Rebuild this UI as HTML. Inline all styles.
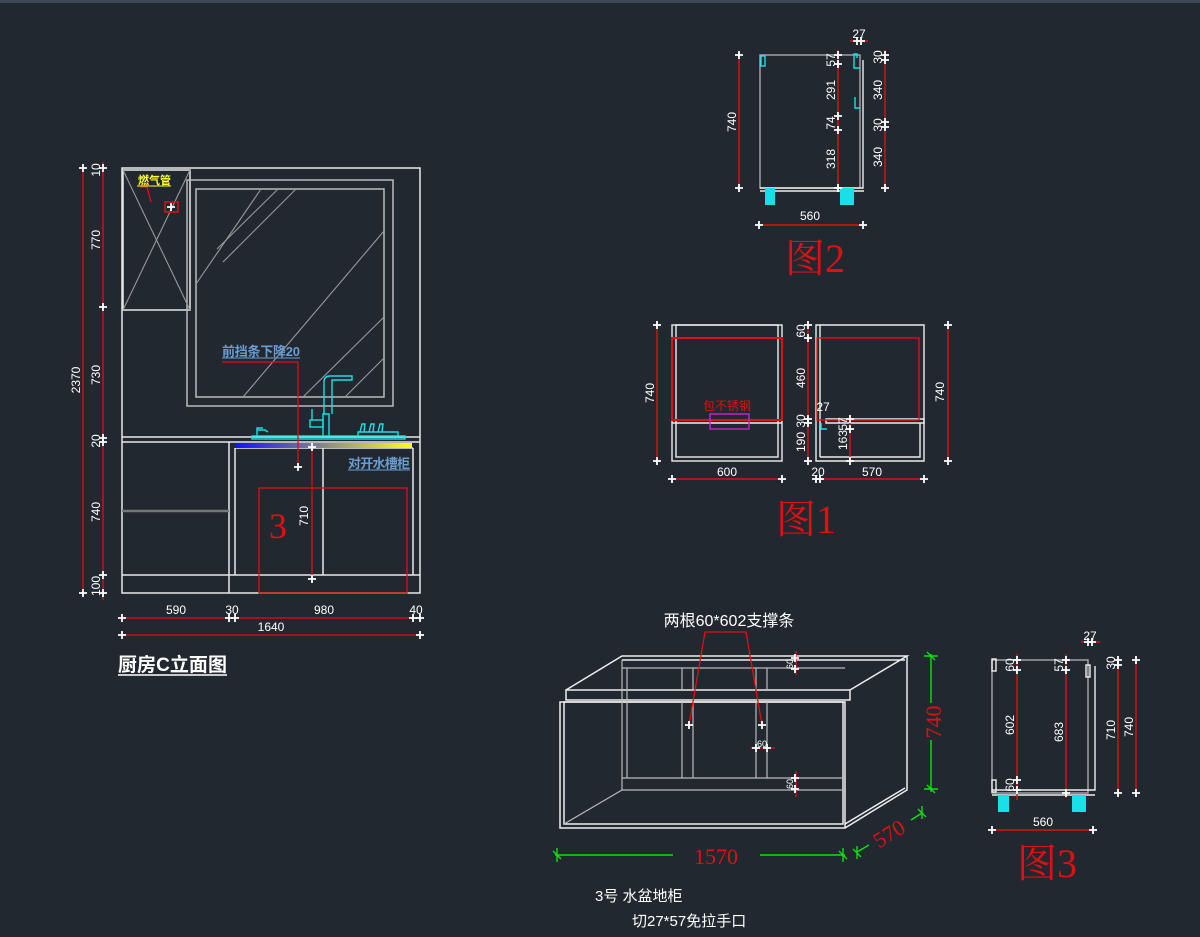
<!DOCTYPE html>
<html><head><meta charset="utf-8"><style>
html,body{margin:0;padding:0;background:#212830;}
svg{display:block}
text{font-family:"Liberation Sans","Noto Sans CJK SC",sans-serif;}
.s{font-family:"Liberation Serif","Noto Serif CJK SC",serif;}
</style></head><body>
<svg width="1200" height="937" viewBox="0 0 1200 937" xmlns="http://www.w3.org/2000/svg">
<defs>
<path id="c" d="M-4 0H4M0-4V4" stroke="#fff" stroke-width="1.8"/>
</defs>
<rect width="1200" height="937" fill="#212830"/>
<rect width="1200" height="3" fill="#3d4756"/>

<!-- ===== Elevation ===== -->
<g fill="none" stroke="#e8e8e8" stroke-width="1.5">
<rect x="122" y="168" width="298" height="425"/>
<rect x="123" y="170" width="67" height="140"/>
<rect x="187" y="180" width="206" height="226" stroke="#bbb"/>
<rect x="196" y="189" width="188" height="208" stroke="#bbb"/>
<line x1="122" y1="437" x2="420" y2="437"/>
<line x1="122" y1="442" x2="420" y2="442"/>
<line x1="229" y1="442" x2="229" y2="593"/>
<line x1="235" y1="448" x2="235" y2="575"/>
<line x1="413" y1="448" x2="413" y2="575"/>
<line x1="323" y1="448" x2="323" y2="575"/>
<line x1="235" y1="448" x2="413" y2="448"/>
<line x1="122" y1="575" x2="420" y2="575"/>
</g>
<g stroke="#999" stroke-width="1.1" fill="none">
<line x1="123" y1="170" x2="190" y2="310"/><line x1="190" y1="170" x2="123" y2="310"/>
<line x1="217" y1="249" x2="278" y2="189"/><line x1="223" y1="262" x2="296" y2="189"/>
<line x1="196" y1="284" x2="261" y2="189"/>
<line x1="243" y1="397" x2="384" y2="231"/><line x1="303" y1="397" x2="384" y2="317"/>
<line x1="345" y1="397" x2="384" y2="358"/>
<line x1="122" y1="511" x2="229" y2="511" stroke-width="2.5" stroke="#777"/>
</g>
<defs><linearGradient id="g1"><stop offset="0" stop-color="#1010ff"/><stop offset="0.5" stop-color="#888"/><stop offset="1" stop-color="#ffff20"/></linearGradient></defs>
<rect x="235" y="443" width="177" height="5" fill="url(#g1)"/>
<!-- faucet -->
<g fill="none" stroke="#19e0e8" stroke-width="1.4">
<rect x="252" y="436" width="153" height="3"/>
<path d="M257 436v-6h8l3 2M257 430v-2h6"/>
<path d="M323 436v-22h6v22M324 414v-32q0-6 6-6h22v4h-20v34"/>
<rect x="310" y="420" width="13" height="7"/><line x1="312" y1="420" x2="312" y2="409"/>
<path d="M358 436v-4h40v4M360 432l2-8h3l-1 8M369 432l2-8h3l-1 8M378 432l2-8h3l-1 8"/>
</g>
<!-- red items -->
<g stroke="#e01010" stroke-width="1.3" fill="none">
<rect x="259" y="488" width="148" height="105"/>
<path d="M222 362H298V467"/>
<line x1="312" y1="447" x2="312" y2="575"/>
<path d="M140 187h7l4 15"/>
<rect x="165" y="202" width="13" height="10" stroke-width="1.5"/>
<line x1="83" y1="166" x2="83" y2="596"/>
<line x1="103" y1="162" x2="103" y2="600"/>
<line x1="118" y1="618" x2="424" y2="618"/>
<line x1="118" y1="635" x2="424" y2="635"/>
</g>
<g>
<use href="#c" x="83" y="168"/><use href="#c" x="83" y="593"/>
<use href="#c" x="103" y="168"/><use href="#c" x="103" y="307"/><use href="#c" x="103" y="438"/><use href="#c" x="103" y="442"/><use href="#c" x="103" y="575"/><use href="#c" x="103" y="593"/>
<use href="#c" x="122" y="618"/><use href="#c" x="229" y="618"/><use href="#c" x="235" y="618"/><use href="#c" x="413" y="618"/><use href="#c" x="420" y="618"/>
<use href="#c" x="122" y="635"/><use href="#c" x="420" y="635"/>
<use href="#c" x="298" y="467"/><use href="#c" x="312" y="447"/><use href="#c" x="312" y="579"/>
<use href="#c" x="171" y="207"/>
</g>
<g fill="#fff" font-size="12" text-anchor="middle">
<text transform="translate(80,380) rotate(-90)">2370</text>
<text transform="translate(100,170) rotate(-90)">10</text>
<text transform="translate(100,240) rotate(-90)">770</text>
<text transform="translate(100,375) rotate(-90)">730</text>
<text transform="translate(100,441) rotate(-90)">20</text>
<text transform="translate(100,512) rotate(-90)">740</text>
<text transform="translate(100,586) rotate(-90)">100</text>
<text transform="translate(308,516) rotate(-90)">710</text>
<text x="176" y="614">590</text><text x="232" y="614">30</text><text x="324" y="614">980</text><text x="416" y="614">40</text>
<text x="271" y="631">1640</text>
</g>
<text x="278" y="538" class="s" font-size="36" fill="#e01010" text-anchor="middle">3</text>
<text x="138" y="184" font-size="11" fill="#ffff30" font-weight="bold">燃气管</text>
<line x1="137" y1="186" x2="171" y2="186" stroke="#ffff30"/>
<text x="222" y="356" font-size="13" fill="#6a9cd0" font-weight="bold" textLength="78">前挡条下降20</text>
<line x1="222" y1="358" x2="300" y2="358" stroke="#6a9cd0"/>
<text x="348" y="468" font-size="13" fill="#6a9cd0" font-weight="bold" textLength="62">对开水槽柜</text>
<line x1="348" y1="470" x2="410" y2="470" stroke="#6a9cd0"/>
<text x="118" y="671" font-size="19" fill="#fff" font-weight="bold" textLength="109">厨房C立面图</text>
<line x1="118" y1="675" x2="227" y2="675" stroke="#fff" stroke-width="1.5"/>

<!-- ===== 图2 ===== -->
<g fill="none" stroke-width="1.4">
<rect x="760" y="55" width="100" height="133" stroke="#aaa"/>
<path d="M760 188H863V60" stroke="#eee"/>
<path d="M760 191H864" stroke="#eee"/>
<path d="M857 58v-4h-3v14h6M855 97v11h5" stroke="#19e0e8"/>
<rect x="761" y="56" width="4" height="10" stroke="#19e0e8"/>
<g stroke="#e01010">
<line x1="739" y1="52" x2="739" y2="191"/><line x1="838" y1="50" x2="838" y2="192"/>
<line x1="885" y1="50" x2="885" y2="192"/><line x1="756" y1="225" x2="866" y2="225"/>
<line x1="850" y1="41" x2="868" y2="41"/>
</g>
</g>
<g fill="#19e0e8"><rect x="765" y="188" width="10" height="17"/><rect x="840" y="188" width="14" height="17"/></g>
<g><use href="#c" x="739" y="55"/><use href="#c" x="739" y="188"/>
<use href="#c" x="838" y="55"/><use href="#c" x="838" y="64"/><use href="#c" x="838" y="116"/><use href="#c" x="838" y="130"/><use href="#c" x="838" y="188"/>
<use href="#c" x="885" y="55"/><use href="#c" x="885" y="60"/><use href="#c" x="885" y="122"/><use href="#c" x="885" y="127"/><use href="#c" x="885" y="188"/>
<use href="#c" x="759" y="225"/><use href="#c" x="863" y="225"/><use href="#c" x="857" y="41"/><use href="#c" x="861" y="41"/></g>
<g fill="#fff" font-size="12" text-anchor="middle">
<text transform="translate(736,122) rotate(-90)">740</text>
<text transform="translate(835,60) rotate(-90)">57</text>
<text transform="translate(835,90) rotate(-90)">291</text>
<text transform="translate(835,123) rotate(-90)">74</text>
<text transform="translate(835,159) rotate(-90)">318</text>
<text transform="translate(882,57) rotate(-90)">30</text>
<text transform="translate(882,90) rotate(-90)">340</text>
<text transform="translate(882,125) rotate(-90)">30</text>
<text transform="translate(882,157) rotate(-90)">340</text>
<text x="859" y="38">27</text><text x="810" y="220">560</text>
</g>
<text x="815" y="272" class="s" font-size="40" fill="#e01010" text-anchor="middle">图2</text>

<!-- ===== 图1 ===== -->
<g fill="none" stroke-width="1.4">
<rect x="672" y="325" width="110" height="136" stroke="#eee"/>
<rect x="676" y="325" width="102" height="132" stroke="#eee"/>
<line x1="672" y1="423" x2="782" y2="423" stroke="#eee"/>
<rect x="672" y="338" width="110" height="82" stroke="#e01010" stroke-width="2"/>
<rect x="710" y="414" width="39" height="15" stroke="#d020d0"/>
<path d="M816 461V325h108v136z" stroke="#eee"/>
<line x1="820" y1="325" x2="820" y2="457" stroke="#eee"/>
<path d="M820 457H920V423" stroke="#eee"/>
<path d="M826 419H924V423H826z" stroke="#eee"/>
<rect x="817" y="338" width="102" height="82" stroke="#e01010"/>
<path d="M821 423v6h6" stroke="#19e0e8"/>
<g stroke="#e01010">
<line x1="657" y1="322" x2="657" y2="464"/><line x1="668" y1="479" x2="786" y2="479"/>
<line x1="808" y1="322" x2="808" y2="464"/><line x1="850" y1="415" x2="850" y2="464"/>
<line x1="948" y1="322" x2="948" y2="464"/><line x1="812" y1="479" x2="928" y2="479"/>
</g>
</g>
<g><use href="#c" x="657" y="325"/><use href="#c" x="657" y="461"/><use href="#c" x="672" y="479"/><use href="#c" x="782" y="479"/>
<use href="#c" x="808" y="325"/><use href="#c" x="808" y="338"/><use href="#c" x="808" y="419"/><use href="#c" x="808" y="423"/><use href="#c" x="808" y="461"/>
<use href="#c" x="850" y="419"/><use href="#c" x="850" y="429"/><use href="#c" x="850" y="461"/>
<use href="#c" x="948" y="325"/><use href="#c" x="948" y="461"/>
<use href="#c" x="816" y="479"/><use href="#c" x="820" y="479"/><use href="#c" x="924" y="479"/></g>
<g fill="#fff" font-size="12" text-anchor="middle">
<text transform="translate(654,393) rotate(-90)">740</text>
<text transform="translate(944,392) rotate(-90)">740</text>
<text transform="translate(805,331) rotate(-90)">60</text>
<text transform="translate(805,378) rotate(-90)">460</text>
<text transform="translate(805,421) rotate(-90)">30</text>
<text transform="translate(805,442) rotate(-90)">190</text>
<text transform="translate(847,440) rotate(-90)">163</text>
<text transform="translate(847,424) rotate(-90)">57</text>
<text x="823" y="411">27</text>
<text x="727" y="476">600</text><text x="818" y="476">20</text><text x="872" y="476">570</text>
</g>
<text x="727" y="410" font-size="12" fill="#e01010" text-anchor="middle">包不锈钢</text>
<text x="806" y="533" class="s" font-size="40" fill="#e01010" text-anchor="middle">图1</text>

<!-- ===== 3D cabinet ===== -->
<g fill="none" stroke="#eee" stroke-width="1.5">
<rect x="560" y="702" width="285" height="126"/>
<rect x="564" y="702" width="279" height="122"/>
<rect x="566" y="690" width="284" height="10"/>
<path d="M566 690L622 656H907L850 690M622 660H905"/>
<path d="M907 656V790L845 828M845 824L905 788"/>
</g>
<g fill="none" stroke="#bbb" stroke-width="1.2">
<line x1="622" y1="660" x2="622" y2="790"/><line x1="622" y1="668" x2="845" y2="668"/>
<line x1="627" y1="668" x2="627" y2="778"/>
<line x1="622" y1="778" x2="845" y2="778"/><line x1="622" y1="790" x2="845" y2="790"/>
<line x1="564" y1="824" x2="622" y2="790"/>
<line x1="682" y1="668" x2="682" y2="690"/><line x1="693" y1="668" x2="693" y2="690"/>
<line x1="756" y1="668" x2="756" y2="690"/><line x1="767" y1="668" x2="767" y2="690"/>
<line x1="682" y1="702" x2="682" y2="778"/><line x1="693" y1="702" x2="693" y2="778"/>
<line x1="756" y1="702" x2="756" y2="778"/><line x1="767" y1="702" x2="767" y2="778"/>
</g>
<g stroke="#e01010" fill="none" stroke-width="1.3">
<path d="M689 725L705 632H746L762 725"/>
<line x1="796" y1="651" x2="796" y2="675"/><line x1="796" y1="771" x2="796" y2="797"/>
<line x1="750" y1="748" x2="775" y2="748"/>
</g>
<g><use href="#c" x="689" y="725"/><use href="#c" x="762" y="725"/>
<use href="#c" x="795" y="658"/><use href="#c" x="795" y="669"/><use href="#c" x="795" y="778"/><use href="#c" x="795" y="789"/>
<use href="#c" x="756" y="748"/><use href="#c" x="767" y="748"/></g>
<g fill="#fff" font-size="9" text-anchor="middle">
<text transform="translate(793,664) rotate(-90)">60</text>
<text transform="translate(793,784) rotate(-90)">60</text>
<text x="762" y="747">60</text>
</g>
<text x="729" y="626" font-size="16" fill="#fff" text-anchor="middle">两根60*602支撑条</text>
<g stroke="#10e010" stroke-width="1.4" fill="none">
<line x1="931" y1="654" x2="931" y2="703"/><line x1="931" y1="740" x2="931" y2="792"/>
<path d="M924 656h14M924 789h14M927 652l8 8M927 785l8 8"/>
<line x1="555" y1="855" x2="673" y2="855"/><line x1="760" y1="855" x2="845" y2="855"/>
<path d="M557 848v14M843 848v14M553 851l8 8M839 851l8 8"/>
<line x1="857" y1="852" x2="869" y2="845"/><line x1="911" y1="820" x2="922" y2="813"/>
<path d="M857 846v13M922 806v13M853 849l8 8M918 809l8 8"/>
</g>
<text transform="translate(941,722) rotate(-90)" class="s" font-size="22" fill="#e01010" text-anchor="middle">740</text>
<text x="716" y="864" class="s" font-size="22" fill="#e01010" text-anchor="middle">1570</text>
<text transform="translate(893,840) rotate(-32)" class="s" font-size="22" fill="#e01010" text-anchor="middle">570</text>
<text x="595" y="901" font-size="15" fill="#fff">3号  水盆地柜</text>
<text x="632" y="926" font-size="15" fill="#fff">切27*57免拉手口</text>

<!-- ===== 图3 ===== -->
<g fill="none" stroke-width="1.4">
<rect x="992" y="660" width="96" height="133" stroke="#aaa"/>
<path d="M992 790H1095V666" stroke="#eee"/>
<path d="M992 795H1095" stroke="#eee"/>
<rect x="992" y="659" width="4" height="12" stroke="#eee"/>
<rect x="992" y="780" width="4" height="12" stroke="#eee"/>
<rect x="1086" y="665" width="4" height="12" stroke="#eee"/>
<g stroke="#e01010">
<line x1="1017" y1="654" x2="1017" y2="800"/><line x1="1066" y1="654" x2="1066" y2="798"/>
<line x1="1118" y1="656" x2="1118" y2="797"/><line x1="1136" y1="656" x2="1136" y2="797"/>
<line x1="988" y1="830" x2="1097" y2="830"/><line x1="1081" y1="642" x2="1100" y2="642"/>
</g>
</g>
<g fill="#19e0e8"><rect x="998" y="795" width="11" height="17"/><rect x="1072" y="795" width="14" height="17"/></g>
<g><use href="#c" x="1017" y="660"/><use href="#c" x="1017" y="670"/><use href="#c" x="1017" y="780"/><use href="#c" x="1017" y="790"/>
<use href="#c" x="1066" y="660"/><use href="#c" x="1066" y="670"/><use href="#c" x="1066" y="793"/>
<use href="#c" x="1118" y="660"/><use href="#c" x="1118" y="665"/><use href="#c" x="1118" y="793"/>
<use href="#c" x="1136" y="660"/><use href="#c" x="1136" y="793"/>
<use href="#c" x="992" y="830"/><use href="#c" x="1093" y="830"/><use href="#c" x="1088" y="642"/><use href="#c" x="1092" y="642"/></g>
<g fill="#fff" font-size="12" text-anchor="middle">
<text transform="translate(1014,665) rotate(-90)">60</text>
<text transform="translate(1014,725) rotate(-90)">602</text>
<text transform="translate(1014,785) rotate(-90)">60</text>
<text transform="translate(1063,665) rotate(-90)">57</text>
<text transform="translate(1063,732) rotate(-90)">683</text>
<text transform="translate(1115,663) rotate(-90)">30</text>
<text transform="translate(1115,730) rotate(-90)">710</text>
<text transform="translate(1133,727) rotate(-90)">740</text>
<text x="1090" y="640">27</text><text x="1043" y="826">560</text>
</g>
<text x="1047" y="877" class="s" font-size="40" fill="#e01010" text-anchor="middle">图3</text>
</svg>
</body></html>
